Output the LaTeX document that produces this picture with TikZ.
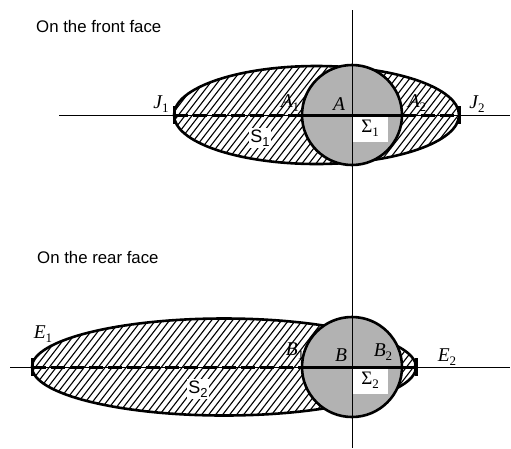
\documentclass[tikz,border=0pt]{standalone}
\usepackage{fontspec}
\setmainfont{Liberation Serif}
\setsansfont{Liberation Sans}
\newcommand\mysub[1]{\raisebox{-0.45ex}{\fontsize{13}{13}\selectfont\upshape #1}}
\begin{document}
\begin{tikzpicture}[x=1pt,y=-1pt,
  lab/.style={font=\fontsize{19.5}{19.5}\selectfont\itshape, inner sep=0pt},
  head/.style={font=\sffamily\fontsize{16.8}{16.8}\selectfont, anchor=base west, inner sep=0pt},
  axis/.style={line width=0.8pt},
  outline/.style={line width=2.6pt},
  hatch/.style={line width=1.1pt},
  thickdash/.style={line width=3pt, dash pattern=on 14pt off 5pt},
  thicksolid/.style={line width=3pt},
  endtick/.style={line width=3pt},
  sbox/.style={fill=white, inner sep=1.5pt, font=\sffamily\fontsize{18}{18}\selectfont},
  gbox/.style={fill=white, inner sep=0pt, anchor=north west, minimum width=36pt, minimum height=27pt, font=\fontsize{19}{19}\selectfont},
  disk/.style={fill=black!30, draw=black, line width=2.6pt}]
\useasboundingbox (0,0) rectangle (511,448);

% ---------- coordinates ----------
\coordinate (O1) at (352,115);
\coordinate (C1) at (316.5,115);
\coordinate (J1) at (174,115);
\coordinate (J2) at (459,115);
\coordinate (A1) at (302,115);
\coordinate (A2) at (402,115);
\coordinate (O2) at (352,367);
\coordinate (C2) at (224,367);
\coordinate (pE1) at (32,367);
\coordinate (pE2) at (416,367);
\coordinate (pB1) at (302,367);
\coordinate (pB2) at (402,367);
\coordinate (vt) at (352,10);
\coordinate (vb) at (352,448);
\coordinate (h1l) at (59,115);
\coordinate (h1r) at (510,115);
\coordinate (h2l) at (10,367);
\coordinate (h2r) at (510,367);

% ---------- titles ----------
\node[head] (t1) at (36,32) {On the front face};
\node[head] (t2) at (37,263) {On the rear face};

% ---------- labels lying under hatching / disk ----------
\node[lab] (lA1) at (290,103) {A\mysub{1}};
\node[lab] (lA2) at (417,103) {A\mysub{2}};
\node[lab] (lB1) at (295,351) {B\mysub{1}};

% ---------- top figure ----------
\begin{scope}
  \clip (C1) ellipse [x radius=142.5pt, y radius=49pt];
  \foreach \k in {0,...,60} \draw[hatch] ({80+7*\k},170) -- ++(85,-110);
\end{scope}
\draw[outline] (C1) ellipse [x radius=142.5pt, y radius=49pt];
\draw[disk] (O1) circle [radius=50pt];

% ---------- bottom figure ----------
\begin{scope}
  \clip (C2) ellipse [x radius=192pt, y radius=48.5pt];
  \foreach \k in {0,...,75} \draw[hatch] ({-70+7*\k},422) -- ++(85,-110);
\end{scope}
\draw[outline] (C2) ellipse [x radius=192pt, y radius=48.5pt];
\draw[disk] (O2) circle [radius=50pt];

% ---------- boxed labels ----------
\node[sbox] (lS1) at (260,138) {S\mysub{1}};
\node[sbox] (lS2) at (198,389) {S\mysub{2}};
\node[gbox] (lSig1) at (O1) {Σ\mysub{1}};
\node[gbox] (lSig2) at (O2) {Σ\mysub{2}};

% ---------- axes ----------
\draw[axis] (vt) -- (vb);
\draw[axis] (h1l) -- (h1r);
\draw[axis] (h2l) -- (h2r);

% ---------- thick axis segments ----------
\draw[thickdash] (J1) -- (A1);
\draw[thicksolid] (A1) -- (A2);
\draw[thickdash] (A2) -- (J2);
\draw[thickdash] (pE1) -- (pB1);
\draw[thicksolid] (pB1) -- (pB2);
\draw[thicksolid] (pB2) -- (pE2);

% ---------- end ticks ----------
\draw[endtick] ([yshift=9pt]J1) -- ([yshift=-9pt]J1);
\draw[endtick] ([yshift=9pt]J2) -- ([yshift=-9pt]J2);
\draw[endtick] ([yshift=9pt]pE1) -- ([yshift=-9pt]pE1);
\draw[endtick] ([yshift=9pt]pE2) -- ([yshift=-9pt]pE2);

% ---------- other labels ----------
\node[lab] (lJ1) at (161,104) {J\mysub{1}};
\node[lab] (lJ2) at (477,104) {J\mysub{2}};
\node[lab] (lA) at (339,104) {A};
\node[lab] (lE1) at (43,334) {E\mysub{1}};
\node[lab] (lE2) at (447,357) {E\mysub{2}};
\node[lab] (lB) at (341,355) {B};
\node[lab] (lB2) at (383,352) {B\mysub{2}};
\end{tikzpicture}
\end{document}
